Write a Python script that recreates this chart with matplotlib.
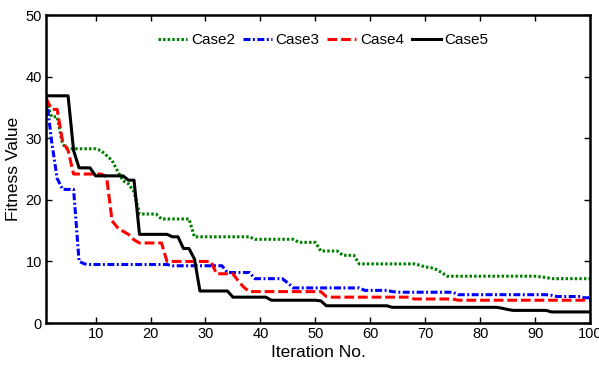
import matplotlib
matplotlib.use("Agg")
import matplotlib.pyplot as plt

plt.rcParams['lines.scale_dashes'] = False

iterations = list(range(1, 101))

case2 = [36.0, 33.5, 33.5, 29.0, 28.3, 28.3, 28.3, 28.3, 28.3, 28.3,
         28.0, 27.2, 26.4, 24.7, 23.1, 22.6, 21.3, 17.7, 17.7, 17.7,
         17.7, 16.9, 16.9, 16.9, 16.9, 16.9, 16.9, 14.0, 14.0, 14.0,
         14.0, 14.0, 14.0, 14.0, 14.0, 14.0, 14.0, 14.0, 13.6, 13.6,
         13.6, 13.6, 13.6, 13.6, 13.6, 13.6, 13.1, 13.1, 13.1, 13.1,
         11.7, 11.7, 11.7, 11.7, 11.0, 11.0, 11.0, 9.6, 9.6, 9.6,
         9.6, 9.6, 9.6, 9.6, 9.6, 9.6, 9.6, 9.6, 9.4, 9.1,
         9.0, 8.7, 8.2, 7.6, 7.6, 7.6, 7.6, 7.6, 7.6, 7.6,
         7.6, 7.6, 7.6, 7.6, 7.6, 7.6, 7.6, 7.6, 7.6, 7.6,
         7.5, 7.4, 7.2, 7.2, 7.2, 7.2, 7.2, 7.2, 7.2, 7.2]

case3 = [37.0, 29.5, 23.5, 21.7, 21.7, 21.7, 10.0, 9.6, 9.5, 9.5,
         9.5, 9.5, 9.5, 9.5, 9.5, 9.5, 9.5, 9.5, 9.5, 9.5,
         9.5, 9.5, 9.5, 9.3, 9.3, 9.3, 9.3, 9.3, 9.3, 9.3,
         9.3, 9.3, 9.3, 8.2, 8.2, 8.2, 8.2, 8.2, 7.2, 7.2,
         7.2, 7.2, 7.2, 7.2, 6.5, 5.7, 5.7, 5.7, 5.7, 5.7,
         5.7, 5.7, 5.7, 5.7, 5.7, 5.7, 5.7, 5.7, 5.3, 5.3,
         5.3, 5.3, 5.3, 5.1, 5.0, 5.0, 5.0, 5.0, 5.0, 5.0,
         5.0, 5.0, 5.0, 5.0, 5.0, 4.6, 4.6, 4.6, 4.6, 4.6,
         4.6, 4.6, 4.6, 4.6, 4.6, 4.6, 4.6, 4.6, 4.6, 4.6,
         4.6, 4.6, 4.5, 4.3, 4.3, 4.3, 4.3, 4.3, 4.1, 4.1]

case4 = [36.5, 34.7, 34.7, 29.5, 28.0, 24.2, 24.2, 24.2, 24.2, 24.2,
         24.2, 23.8, 16.6, 15.5, 14.9, 14.4, 13.5, 13.0, 13.0, 13.0,
         13.0, 13.0, 10.0, 10.0, 10.0, 10.0, 10.0, 10.0, 10.0, 10.0,
         10.0, 8.0, 8.0, 8.0, 8.0, 6.8, 5.8, 5.1, 5.1, 5.1,
         5.1, 5.1, 5.1, 5.1, 5.1, 5.1, 5.1, 5.1, 5.1, 5.1,
         5.1, 4.3, 4.2, 4.2, 4.2, 4.2, 4.2, 4.2, 4.2, 4.2,
         4.2, 4.2, 4.2, 4.2, 4.2, 4.2, 4.2, 3.9, 3.9, 3.9,
         3.9, 3.9, 3.9, 3.9, 3.9, 3.7, 3.7, 3.7, 3.7, 3.7,
         3.7, 3.7, 3.7, 3.7, 3.7, 3.7, 3.7, 3.7, 3.7, 3.7,
         3.7, 3.7, 3.7, 3.7, 3.7, 3.7, 3.7, 3.7, 3.7, 3.7]

case5 = [36.9, 36.9, 36.9, 36.9, 36.9, 28.0, 25.2, 25.2, 25.2, 23.9,
         23.9, 23.9, 23.9, 23.9, 23.9, 23.2, 23.2, 14.4, 14.4, 14.4,
         14.4, 14.4, 14.4, 14.0, 14.0, 12.1, 12.1, 10.4, 5.2, 5.2,
         5.2, 5.2, 5.2, 5.2, 4.2, 4.2, 4.2, 4.2, 4.2, 4.2,
         4.2, 3.7, 3.7, 3.7, 3.7, 3.7, 3.7, 3.7, 3.7, 3.7,
         3.6, 2.8, 2.8, 2.8, 2.8, 2.8, 2.8, 2.8, 2.8, 2.8,
         2.8, 2.8, 2.8, 2.55, 2.55, 2.55, 2.55, 2.55, 2.55, 2.55,
         2.55, 2.55, 2.55, 2.55, 2.55, 2.55, 2.55, 2.55, 2.55, 2.55,
         2.55, 2.55, 2.55, 2.4, 2.2, 2.05, 2.05, 2.05, 2.05, 2.05,
         2.05, 2.05, 1.8, 1.8, 1.8, 1.8, 1.8, 1.8, 1.8, 1.8]

series_labels = ["Case2", "Case3", "Case4", "Case5"]
xticks = [10, 20, 30, 40, 50, 60, 70, 80, 90, 100]
yticks = [0, 10, 20, 30, 40, 50]

font = ['Liberation Sans', 'DejaVu Sans']

fig = plt.figure(figsize=(5.99, 3.70), dpi=100)
ax = fig.add_axes([0.077, 0.127, 0.908, 0.832])

ax.plot(iterations, case2, color='#008000', lw=2.2, dashes=(1.8, 1.5), label=series_labels[0])
ax.plot(iterations, case3, color='#0000ff', lw=2.2, dashes=(5.0, 1.8, 1.4, 1.8), label=series_labels[1])
ax.plot(iterations, case4, color='#ff0000', lw=2.2, dashes=(7.0, 2.8), label=series_labels[2])
ax.plot(iterations, case5, color='black', lw=2.2, label=series_labels[3])

ax.set_xlim(1, 100)
ax.set_ylim(0, 50)
ax.set_xticks(xticks)
ax.set_yticks(yticks)
ax.tick_params(direction='in', top=True, right=True, length=4, width=1, pad=3)
for lab in ax.get_xticklabels() + ax.get_yticklabels():
    lab.set_family(font)
    lab.set_fontsize(10.5)
for sp in ax.spines.values():
    sp.set_linewidth(1.8)

ax.set_xlabel("Iteration No.", family=font, fontsize=12.5, labelpad=3)
fig.text(14 / 599, 0.127 + 0.832 / 2, "Fitness Value", family=font, fontsize=12.5,
         rotation=90, ha='center', va='center')

leg = ax.legend(loc='center', bbox_to_anchor=(0.54, 1 - 40 / 370), bbox_transform=fig.transFigure,
                ncol=4, frameon=False, handlelength=1.9, handletextpad=0.25, columnspacing=0.5,
                borderpad=0, prop={'family': font, 'size': 11})

fig.savefig("out.png", dpi=100)
